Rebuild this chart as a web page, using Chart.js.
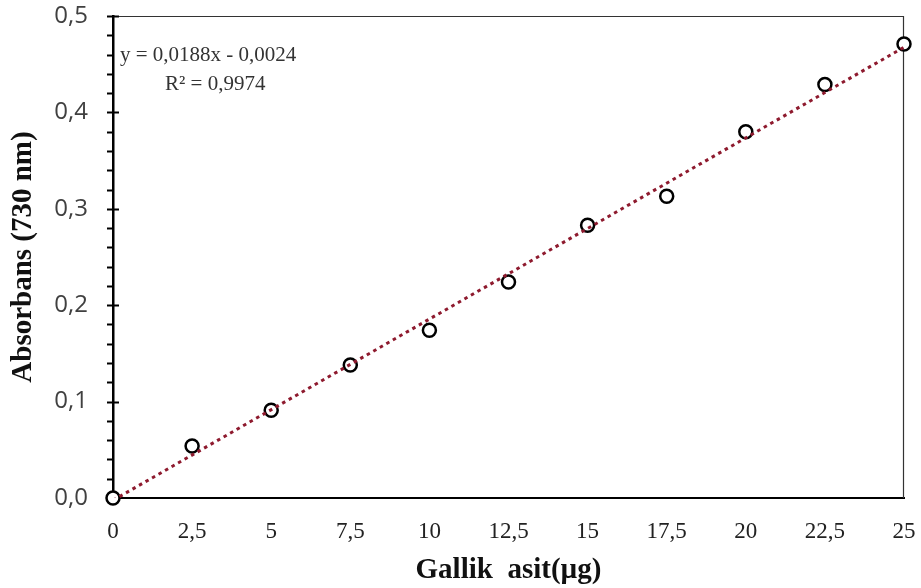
<!DOCTYPE html>
<html lang="tr">
<head>
  <meta charset="UTF-8" />
  <title>Gallik asit kalibrasyon</title>
  <script src="https://cdn.jsdelivr.net/npm/chart.js"></script>
  <style>
    body { margin: 0; background: #fff; }
    #wrap { width: 921px; height: 588px; }
  </style>
</head>
<body>
  <div id="wrap"><canvas id="grafik"></canvas></div>
  <script>
    // okunan değerler
    const miktar = [0, 2.5, 5, 7.5, 10, 12.5, 15, 17.5, 20, 22.5, 25];
    const absorbans = [0, 0.054, 0.091, 0.138, 0.174, 0.224, 0.283, 0.313, 0.380, 0.429, 0.471];
    const egim = [0.0188];
    const kesisim = [-0.0024];
    const denklem = ['y = 0,0188x - 0,0024', 'R² = 0,9974'];

    const noktalar = miktar.map((x, i) => ({ x, y: absorbans[i] }));
    const trend = [0, 25].map(x => ({ x, y: egim[0] * x + kesisim[0] }));

    const virgul = v => String(v).replace('.', ',');

    // y ekseni çentikleri + denklem yazısı
    const ekstra = {
      id: 'ekstra',
      afterDatasetsDraw(chart) {
        const ctx = chart.ctx;
        const y = chart.scales.y;
        const a = chart.chartArea;
        ctx.save();
        ctx.strokeStyle = '#000';
        ctx.lineWidth = 2;
        for (let v = 0.02; v <= 0.5001; v += 0.02) {
          const py = Math.round(y.getPixelForValue(v)) + 0.5;
          const major = Math.abs(v * 10 - Math.round(v * 10)) < 1e-6;
          ctx.beginPath();
          ctx.moveTo(a.left - 6, py);
          ctx.lineTo(major ? a.left + 6 : a.left, py);
          ctx.stroke();
        }
        ctx.fillStyle = '#333';
        ctx.font = '21px "Liberation Serif", serif';
        ctx.textBaseline = 'middle';
        ctx.fillText(denklem[0], a.left + 7, a.top + 39);
        ctx.fillText(denklem[1], a.left + 52, a.top + 68);
        ctx.restore();
      }
    };

    new Chart(document.getElementById('grafik'), {
      type: 'scatter',
      data: {
        datasets: [
          {
            type: 'line',
            data: trend,
            borderColor: '#8e1a2e',
            borderWidth: 3,
            borderDash: [3.5, 4],
            pointRadius: 0,
            fill: false
          },
          {
            data: noktalar,
            clip: false,
            pointRadius: 6.5,
            pointBorderWidth: 2.5,
            pointBorderColor: '#000',
            pointBackgroundColor: '#fff',
            pointHoverRadius: 6.5
          }
        ]
      },
      options: {
        responsive: true,
        maintainAspectRatio: false,
        animation: false,
        layout: { padding: 0 },
        plugins: { legend: { display: false }, tooltip: { enabled: false } },
        scales: {
          x: {
            type: 'linear',
            min: 0,
            max: 25,
            afterFit: s => { s.height = 90; s.paddingRight = 17; },
            grid: { display: false, drawTicks: false },
            border: { display: true, color: '#000', width: 2 },
            ticks: {
              stepSize: 2.5,
              padding: 20,
              color: '#222',
              font: { family: '"Liberation Serif", serif', size: 23 },
              callback: v => virgul(v)
            },
            title: {
              display: true,
              text: 'Gallik  asit(µg)',
              color: '#111',
              font: { family: '"Liberation Serif", serif', size: 29, weight: 'bold' },
              padding: { top: 0, bottom: 0 }
            }
          },
          y: {
            min: 0,
            max: 0.5,
            afterFit: s => { s.width = 113; s.paddingTop = 16; },
            grid: { display: false, drawTicks: false },
            border: { display: true, color: '#000', width: 2.5 },
            ticks: {
              stepSize: 0.1,
              padding: 25,
              color: '#404040',
              font: { family: '"Open Sans", sans-serif', size: 24 },
              callback: v => v.toFixed(1).replace('.', ',')
            },
            title: {
              display: true,
              text: 'Absorbans (730 nm)',
              color: '#111',
              font: { family: '"Liberation Serif", serif', size: 29, weight: 'bold' },
              padding: { top: 6, bottom: 0 }
            }
          }
        }
      },
      plugins: [ekstra, {
        id: 'cerceve',
        beforeDatasetsDraw(chart) {
          const a = chart.chartArea;
          const ctx = chart.ctx;
          ctx.save();
          ctx.strokeStyle = '#333';
          ctx.lineWidth = 1.2;
          ctx.beginPath();
          ctx.moveTo(a.left, a.top + 0.5);
          ctx.lineTo(a.right - 0.5, a.top + 0.5);
          ctx.lineTo(a.right - 0.5, a.bottom);
          ctx.stroke();
          ctx.restore();
        }
      }]
    });
  </script>
</body>
</html>
